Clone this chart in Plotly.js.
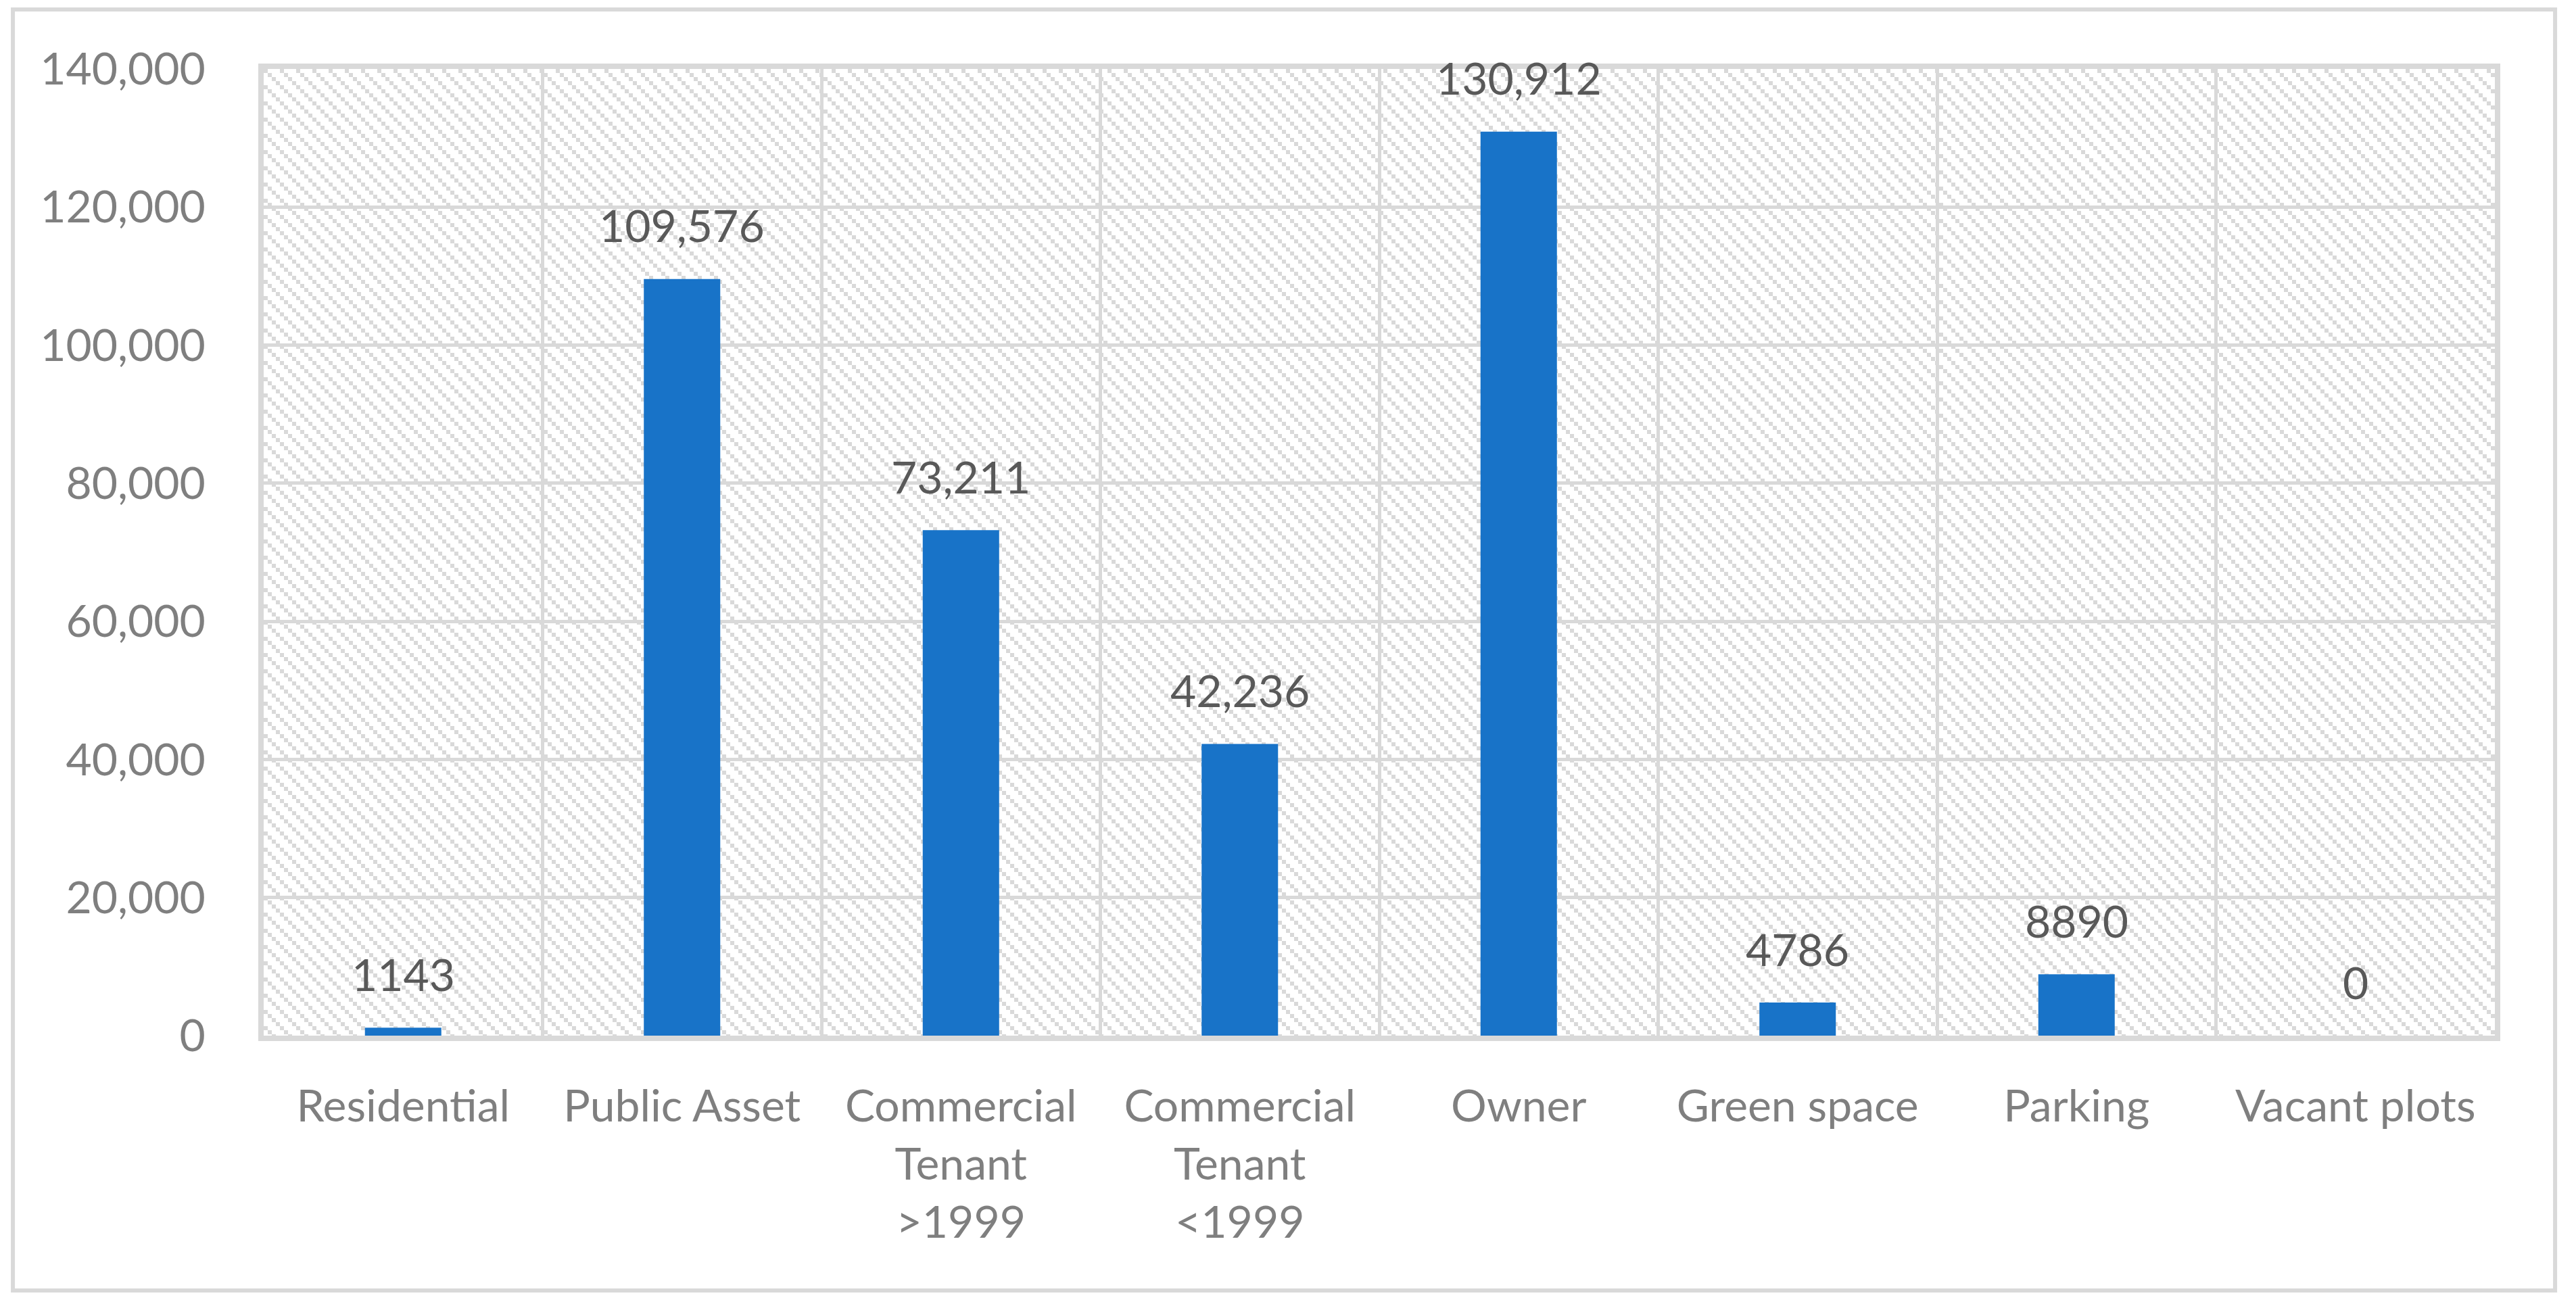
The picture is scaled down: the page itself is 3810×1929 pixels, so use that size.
<!DOCTYPE html>
<html>
<head>
<meta charset="utf-8">
<script src="https://cdn.plot.ly/plotly-3.0.1.min.js"></script>
<style>
    html, body { margin: 0; padding: 0; background: #ffffff; }
    #chart { width: 3810px; height: 1929px; }
</style>
</head>
<body>
<div id="chart"></div>
<script>
const categories = ['Residential', 'Public Asset', 'Commercial Tenant >1999', 'Commercial Tenant <1999',
    'Owner', 'Green space', 'Parking', 'Vacant plots'];
const tickLabels = ['Residential', 'Public Asset', 'Commercial<br>Tenant<br>&gt;1999', 'Commercial<br>Tenant<br>&lt;1999',
    'Owner', 'Green space', 'Parking', 'Vacant plots'];
const areaValues = [1143, 109576, 73211, 42236, 130912, 4786, 8890, 0];
const yTicks = [0, 20000, 40000, 60000, 80000, 100000, 120000, 140000];

const plotW = 3300;
const plotH = 1430;

// excel-like "\" hatch behind the plot area
function hatchImage(w, h) {
    const svg =
        '<svg xmlns="http://www.w3.org/2000/svg" width="' + w + '" height="' + h + '">' +
        '<defs><pattern id="p" width="24" height="24" patternUnits="userSpaceOnUse">' +
        '<rect x="0" y="0" width="6" height="6" fill="#d9d9d9"/>' +
        '<rect x="6" y="6" width="6" height="6" fill="#d9d9d9"/>' +
        '<rect x="12" y="12" width="6" height="6" fill="#d9d9d9"/>' +
        '<rect x="18" y="18" width="6" height="6" fill="#d9d9d9"/>' +
        '</pattern></defs>' +
        '<rect x="0" y="0" width="' + w + '" height="' + h + '" fill="url(#p)"/></svg>';
    return 'data:image/svg+xml;base64,' + btoa(svg);
}

function labelFor(v) {
    return v >= 10000 ? v.toLocaleString('en-US') : String(v);
}

const font = 'Lato, "Open Sans", sans-serif';

const trace = {
    type: 'bar',
    x: categories,
    y: areaValues,
    marker: {color: '#1873c8'},
    hoverinfo: 'x+y'
};

const dataLabels = categories.map(function(c, i) {
    return {
        x: c,
        y: areaValues[i],
        xref: 'x',
        yref: 'y',
        text: labelFor(areaValues[i]),
        showarrow: false,
        yanchor: 'middle',
        yshift: 80,
        font: {family: font, size: 66, color: '#595959'}
    };
});

const layout = {
    width: 3810,
    height: 1929,
    margin: {l: 390, r: 120, t: 102, b: 397},
    paper_bgcolor: '#ffffff',
    plot_bgcolor: 'rgba(0,0,0,0)',
    showlegend: false,
    bargap: 0.726,
    font: {family: font, size: 66, color: '#7f7f7f'},
    xaxis: {
        type: 'category',
        tickvals: categories,
        ticktext: tickLabels,
        tickson: 'boundaries',
        showgrid: true,
        gridcolor: '#d9d9d9',
        gridwidth: 5,
        ticks: '',
        ticklabelstandoff: 40,
        showline: true,
        mirror: true,
        linecolor: '#d9d9d9',
        linewidth: 8,
        tickfont: {family: font, size: 66, color: '#7f7f7f'}
    },
    yaxis: {
        range: [0, 140000],
        tickvals: yTicks,
        tickformat: ',d',
        showgrid: true,
        gridcolor: '#d9d9d9',
        gridwidth: 5,
        zeroline: false,
        ticks: '',
        ticklabelstandoff: 65,
        showline: true,
        mirror: true,
        linecolor: '#d9d9d9',
        linewidth: 8,
        tickfont: {family: font, size: 66, color: '#7f7f7f'}
    },
    images: [{
        source: hatchImage(plotW, plotH),
        xref: 'paper',
        yref: 'paper',
        x: 0,
        y: 1,
        sizex: 1,
        sizey: 1,
        sizing: 'stretch',
        xanchor: 'left',
        yanchor: 'top',
        layer: 'below'
    }],
    shapes: [{
        type: 'rect',
        xref: 'paper',
        yref: 'paper',
        x0: -0.1124,
        x1: 1.027,
        y0: -0.2636,
        y1: 1.0615,
        line: {color: '#d9d9d9', width: 6},
        fillcolor: 'rgba(0,0,0,0)',
        layer: 'below'
    }],
    annotations: dataLabels
};

Plotly.newPlot('chart', [trace], layout, {displayModeBar: false, staticPlot: true});
</script>
</body>
</html>
